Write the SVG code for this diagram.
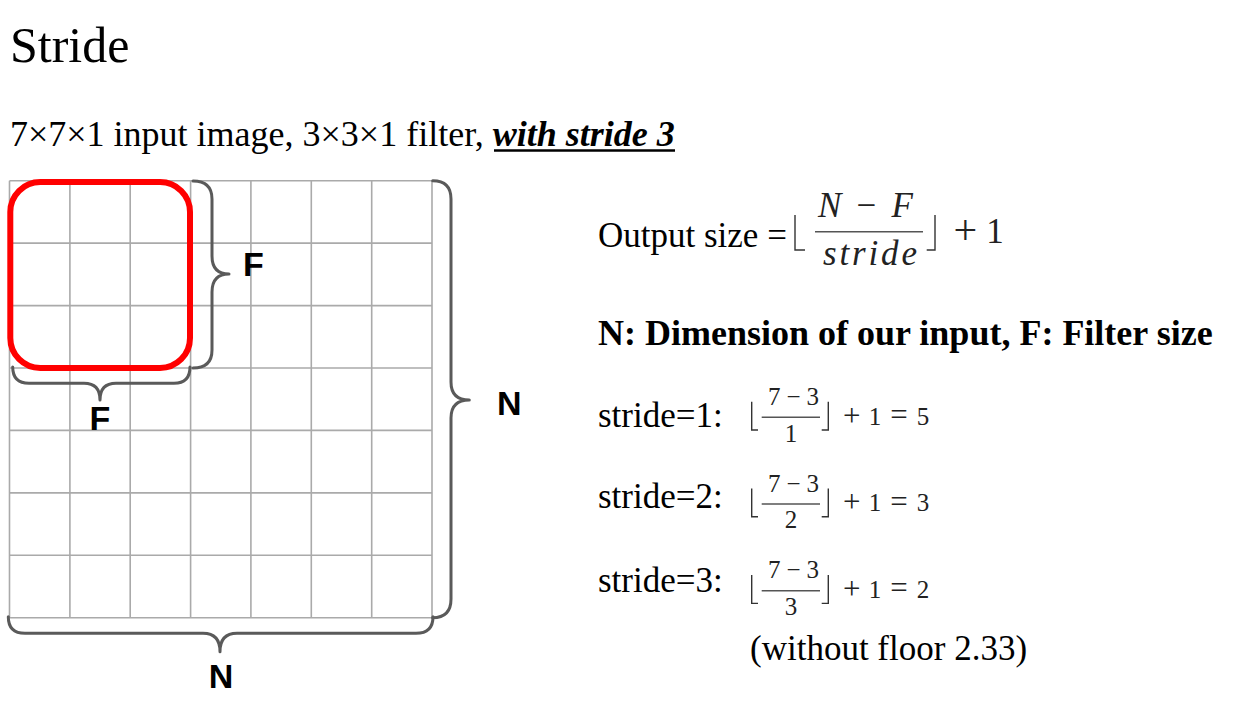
<svg xmlns="http://www.w3.org/2000/svg" width="1258" height="710" viewBox="0 0 1258 710">
<style>
.serif{font-family:"Liberation Serif","Times New Roman",serif;fill:#000}
.math{font-family:"Liberation Serif","Times New Roman",serif;fill:#222}
.floor{stroke:#333;fill:none;stroke-width:1.4}
.lbl{font-family:"Liberation Sans",Arial,sans-serif;font-weight:bold;font-size:34px;fill:#000}
.grid{stroke:#aaaaaa;stroke-width:1.6;fill:none}
.brace{stroke:#5a5a5a;stroke-width:3;fill:none;stroke-linecap:round;stroke-linejoin:round}
.bar{stroke:#555;stroke-width:1.4}
.op{font-size:31px}
.dg{font-size:25px}
</style>
<rect width="1258" height="710" fill="#fff"/>
<g id="title">
<text class="serif" x="10" y="62" font-size="50">Stride</text>
</g>
<g id="subtitle">
<text class="serif" x="10" y="146" font-size="36">7×7×1 input image, 3×3×1 filter, <tspan font-weight="bold" font-style="italic">with stride 3</tspan></text>
<line x1="494" y1="150.5" x2="675" y2="150.5" stroke="#000" stroke-width="2.5"/>
</g>
<g id="grid">
<path class="grid" d="M9.5,180.7V617.7M69.9,180.7V617.7M130.2,180.7V617.7M190.6,180.7V617.7M250.9,180.7V617.7M311.3,180.7V617.7M371.7,180.7V617.7M432,180.7V617.7M9.5,180.7H432M9.5,243.1H432M9.5,305.6H432M9.5,368H432M9.5,430.4H432M9.5,492.9H432M9.5,555.3H432M9.5,617.7H432"/>
</g>
<g id="filter">
<rect x="10.3" y="182" width="179.7" height="186" rx="30" ry="30" fill="none" stroke="#ff0000" stroke-width="6"/>
</g>
<g id="connectors">
<path class="brace" d="M193,181 Q212,181 212,199 L212,256 Q212,274 229,274 Q212,274 212,292 L212,350 Q212,368 193,368"/>
<path class="brace" d="M12.7,367 Q12.7,383.3 29,383.3 L84,383.3 Q100,383.3 100,400 Q100,383.3 116,383.3 L174,383.3 Q190,383.3 190,367"/>
<path class="brace" d="M432.7,180.7 Q451,180.7 451,199 L451,382 Q451,400 469.3,400 Q451,400 451,418 L451,599 Q451,617.7 432.7,617.7"/>
<path class="brace" d="M8.3,616.7 Q8.3,633.3 25,633.3 L203,633.3 Q220,633.3 220,651.7 Q220,633.3 237,633.3 L416,633.3 Q433,633.3 433,616.7"/>
</g>
<g id="label-F-right"><text class="lbl" x="243" y="276">F</text></g>
<g id="label-F-bottom"><text class="lbl" x="100" y="430" text-anchor="middle">F</text></g>
<g id="label-N-right"><text class="lbl" x="497" y="415">N</text></g>
<g id="label-N-bottom"><text class="lbl" x="221" y="688" text-anchor="middle">N</text></g>
<g id="formula">
<text class="serif" x="598" y="247" font-size="35">Output size =</text>
<path class="floor" d="M795,215V250H805M926.7,250H935V215"/>
<text class="math" x="865.5" y="217" font-size="35" text-anchor="middle" textLength="95" lengthAdjust="spacing"><tspan font-style="italic">N</tspan> − <tspan font-style="italic">F</tspan></text>
<line class="bar" x1="815" y1="231.7" x2="923" y2="231.7"/>
<text class="math" x="870" y="265" font-size="35" font-style="italic" text-anchor="middle" textLength="94" lengthAdjust="spacing">stride</text>
<text class="math" x="965.3" y="244" font-size="42" text-anchor="middle">+</text>
<text class="math" x="995" y="242.5" font-size="35" text-anchor="middle">1</text>
</g>
<g id="definition">
<text class="serif" x="598" y="345" font-size="36" font-weight="bold">N: Dimension of our input, F: Filter size</text>
</g>
<g id="row1">
<text class="serif" x="598" y="426.7" font-size="35">stride=1:</text>
<path class="floor" d="M751.7,401.7V430H758M821.7,430H828.3V401.7" stroke-width="1.2"/>
<text class="math dg" x="793.5" y="405" text-anchor="middle" textLength="51" lengthAdjust="spacing">7 − 3</text>
<line class="bar" x1="761.7" y1="417.3" x2="820" y2="417.3"/>
<text class="math dg" x="791" y="441.7" text-anchor="middle">1</text>
<text class="math op" x="851.7" y="425.5" text-anchor="middle">+</text>
<text class="math dg" x="875" y="424.5" text-anchor="middle">1</text>
<text class="math op" x="899" y="425" text-anchor="middle">=</text>
<text class="math dg" x="923" y="424.5" text-anchor="middle">5</text>
</g>
<g id="row2">
<text class="serif" x="598" y="508" font-size="35">stride=2:</text>
<path class="floor" d="M751.7,488.4V516.7H758M821.7,516.7H828.3V488.4" stroke-width="1.2"/>
<text class="math dg" x="793.5" y="491.7" text-anchor="middle" textLength="51" lengthAdjust="spacing">7 − 3</text>
<line class="bar" x1="761.7" y1="504" x2="820" y2="504"/>
<text class="math dg" x="791" y="528.4" text-anchor="middle">2</text>
<text class="math op" x="851.7" y="512.2" text-anchor="middle">+</text>
<text class="math dg" x="875" y="511.2" text-anchor="middle">1</text>
<text class="math op" x="899" y="511.7" text-anchor="middle">=</text>
<text class="math dg" x="923" y="511.2" text-anchor="middle">3</text>
</g>
<g id="row3">
<text class="serif" x="598" y="591.7" font-size="35">stride=3:</text>
<path class="floor" d="M751.7,575.1V603.4H758M821.7,603.4H828.3V575.1" stroke-width="1.2"/>
<text class="math dg" x="793.5" y="578.4" text-anchor="middle" textLength="51" lengthAdjust="spacing">7 − 3</text>
<line class="bar" x1="761.7" y1="590.7" x2="820" y2="590.7"/>
<text class="math dg" x="791" y="615.1" text-anchor="middle">3</text>
<text class="math op" x="851.7" y="598.9" text-anchor="middle">+</text>
<text class="math dg" x="875" y="597.9" text-anchor="middle">1</text>
<text class="math op" x="899" y="598.4" text-anchor="middle">=</text>
<text class="math dg" x="923" y="597.9" text-anchor="middle">2</text>
<text class="serif" x="750" y="660" font-size="35">(without floor 2.33)</text>
</g>
</svg>
